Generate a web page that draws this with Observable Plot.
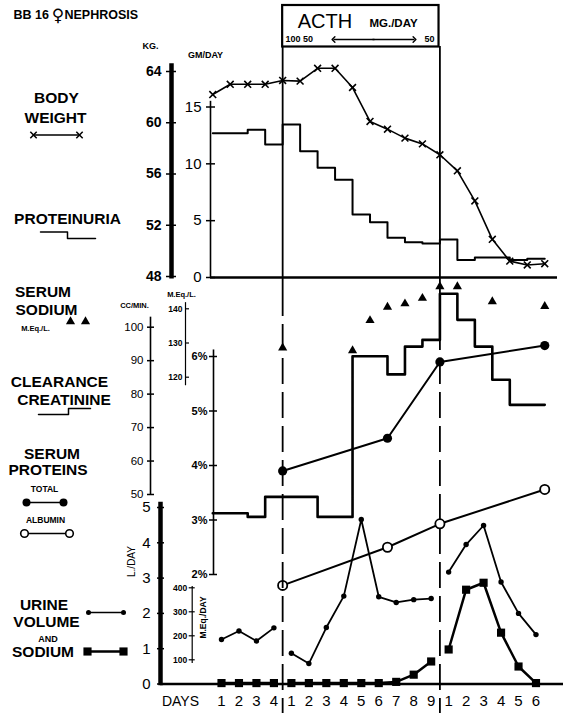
<!DOCTYPE html>
<html><head><meta charset="utf-8">
<script src="https://cdn.jsdelivr.net/npm/d3@7"></script>
<script src="https://cdn.jsdelivr.net/npm/@observablehq/plot@0.6"></script>
<style>
body{margin:0;background:#fff}
#chart{position:relative;width:567px;height:713px;overflow:hidden;background:#fff}
#chart svg{position:absolute;left:0;top:0;background:transparent}
</style></head><body><div id="chart"></div>
<script>
// ---------- DATA ----------
const dayLabels = ["1","2","3","4","1","2","3","4","5","6","7","8","9","1","2","3","4","5","6"];
const period    = [0,0,0,0,1,1,1,1,1,1,1,1,1,2,2,2,2,2,2];
// body weight (kg), plotted at day boundaries
const weightDay = [-0.5,0.5,1.5,2.5,3.5,4.5,5.5,6.5,7.5,8.5,9.5,10.5,11.5,12.5,13.5,14.5,15.5,16.5,17.5,18.5];
const weightKg  = [62.2,63.0,63.0,63.0,63.3,63.25,64.25,64.25,62.75,60.1,59.5,58.8,58.35,57.5,56.25,53.9,50.9,49.2,48.9,49.0];
// proteinuria (gm/day), one step per day
const proteinuria = [12.7,12.7,13.0,11.7,13.45,11.1,9.65,8.6,5.55,4.85,3.5,3.1,3.0,3.35,1.55,1.75,1.75,1.55,1.65];
// serum sodium (mEq/L)
const serumNaDay = [3.5,7.5,8.5,9.5,10.5,11.5,12.5,13.5,15.5,18.5];
const serumNa    = [128.6,127.8,136.6,140.5,141.5,143.1,146.5,146.5,142.1,140.7];
// creatinine clearance (cc/min), one step per day
const clearance = [44.4,44.4,43.3,49.3,49.3,49.3,43.3,43.3,91.3,91.3,85.9,94.2,96.2,110.0,102.2,94.2,84.3,76.8,76.8];
// serum proteins (%)
const proteinDay   = [3.5,9.5,12.5,18.5];
const totalProtein = [3.9,4.5,5.9,6.2];
const albumin      = [1.8,2.5,2.93,3.56];
// urine volume (L/day) and urine sodium (mEq/day)
const urineVolume = [1.26,1.5,1.22,1.59,0.87,0.58,1.6,2.49,4.66,2.47,2.31,2.39,2.42,3.17,3.95,4.49,2.89,2.0,1.4];
const urineSodium = [3,3,3,3,3,3,3,3,3,3,8,38,93,143,392,421,213,72,3];
// tick labels
const kgTicks = [48,52,56,60,64];
const gmTicks = [0,5,10,15];
const meqLTicks = [120,130,140];
const ccTicks = [50,60,70,80,90,100];
const pctTicks = [2,3,4,5,6];
const lTicks = [0,1,2,3,4,5];
const meqDayTicks = [100,200,300,400];
const dividers = [3.5,12.5];

// ---------- LAYOUT ----------
const W = 567, H = 713;
const X = {domain:[0,18], range:[221,535.5]};
const xs = d3.scaleLinear(X.domain, X.range);
const ix = px => xs.invert(px);
const FONT = "'Liberation Sans', Arial, sans-serif";
const root = document.getElementById("chart");

function layer(x, y, marks){
  const svg = Plot.plot({
    width:W, height:H, margin:0,
    x:{...x, axis:null}, y:{...y, axis:null},
    style:{background:"transparent", fontFamily:FONT, overflow:"visible", color:"#000"},
    marks
  });
  root.append(svg);
}
function vAxis({px, ticks, lo, hi, sw=1.5, tl=4, tr=4, dx=6, fontSize=11, fontWeight="bold", fmt=d=>String(d), tickSw=1.5}){
  return [
    Plot.ruleX([ix(px)], {y1:lo, y2:hi, strokeWidth:sw, stroke:"#000"}),
    Plot.ruleY(ticks, {y:d=>d, x1:ix(px-tl), x2:ix(px+tr), strokeWidth:tickSw, stroke:"#000"}),
    Plot.text(ticks, {y:d=>d, x:ix(px-dx), text:fmt, textAnchor:"end", fontSize, fontWeight, fill:"#000"})
  ];
}
const stepData = vals => vals.map((v,i)=>({d:i-0.5, v})).concat([{d:vals.length-0.5, v:vals[vals.length-1]}]);
const daily = vals => vals.map((v,i)=>({d:i, v, p:period[i]}));

// body weight
layer(X, {domain:[48,64], range:[276,71]}, [
  ...vAxis({px:171, ticks:kgTicks, lo:47.8, hi:64.6, sw:4.5, tl:5, tr:5, dx:10, fontSize:14}),
  Plot.line(weightDay.map((d,i)=>({d, v:weightKg[i]})), {x:"d", y:"v", stroke:"#000", strokeWidth:1.6}),
  Plot.dot(weightDay.map((d,i)=>({d, v:weightKg[i]})), {x:"d", y:"v", symbol:"times", r:3.2, stroke:"#000", strokeWidth:1.6})
]);
// proteinuria
layer(X, {domain:[0,15], range:[277,106.5]}, [
  ...vAxis({px:210, ticks:gmTicks, lo:0, hi:15.5, sw:1.6, tl:4, tr:5, dx:9, fontSize:15, fontWeight:"normal"}),
  Plot.ruleY([0], {x1:ix(210), x2:ix(557), strokeWidth:2.5, stroke:"#000"}),
  Plot.line(stepData(proteinuria), {x:"d", y:"v", curve:"step-after", stroke:"#000", strokeWidth:2})
]);
// serum sodium
layer(X, {domain:[120,140], range:[376.7,308.3]}, [
  ...vAxis({px:185, ticks:meqLTicks, lo:117.5, hi:141.8, sw:1.2, tl:0, tr:4, dx:3, fontSize:8.5, tickSw:1.2}),
  Plot.dot(serumNaDay.map((d,i)=>({d, v:serumNa[i]})), {x:"d", y:"v", symbol:"triangle", r:3.4, fill:"#000"})
]);
// clearance
layer(X, {domain:[50,100], range:[494,326.7]}, [
  ...vAxis({px:150, ticks:ccTicks, lo:50, hi:103, sw:1.6, tl:3, tr:4, dx:7, fontSize:11.5, fontWeight:"normal"}),
  Plot.line(stepData(clearance), {x:"d", y:"v", curve:"step-after", stroke:"#000", strokeWidth:2.6})
]);
// serum proteins
layer(X, {domain:[2,6], range:[574,356]}, [
  ...vAxis({px:213, ticks:pctTicks, lo:2, hi:6.12, sw:1.6, tl:4, tr:4, dx:6, fontSize:11, fmt:d=>d+"%"}),
  Plot.line(proteinDay.map((d,i)=>({d, v:totalProtein[i]})), {x:"d", y:"v", stroke:"#000", strokeWidth:2}),
  Plot.dot(proteinDay.map((d,i)=>({d, v:totalProtein[i]})), {x:"d", y:"v", r:4.6, fill:"#000"}),
  Plot.line(proteinDay.map((d,i)=>({d, v:albumin[i]})), {x:"d", y:"v", stroke:"#000", strokeWidth:2}),
  Plot.dot(proteinDay.map((d,i)=>({d, v:albumin[i]})), {x:"d", y:"v", r:4.6, fill:"#fff", stroke:"#000", strokeWidth:1.8})
]);
// urine volume
layer(X, {domain:[0,5], range:[683.5,507]}, [
  ...vAxis({px:160, ticks:lTicks, lo:-0.05, hi:5.15, sw:4.5, tl:3, tr:4, dx:10, fontSize:15, fontWeight:"normal"}),
  Plot.ruleY([0], {x1:ix(160), x2:ix(563), strokeWidth:2.5, stroke:"#000"}),
  Plot.line(daily(urineVolume), {x:"d", y:"v", z:"p", stroke:"#000", strokeWidth:1.8}),
  Plot.dot(daily(urineVolume), {x:"d", y:"v", r:2.7, fill:"#000"})
]);
// urine sodium
layer(X, {domain:[0,400], range:[683.3,587.3]}, [
  ...vAxis({px:191.7, ticks:meqDayTicks, lo:85, hi:405, sw:1.2, tl:3, tr:3, dx:5, fontSize:8.5, tickSw:1.2}),
  Plot.line(daily(urineSodium), {x:"d", y:"v", z:"p", stroke:"#000", strokeWidth:2.5}),
  Plot.dot(daily(urineSodium), {x:"d", y:"v", symbol:"square", r:4.6, fill:"#000"})
]);
// frame: dividers, ACTH box, day labels
const PIX = {domain:[0,H], range:[0,H]};
layer(X, PIX, [
  Plot.ruleX(dividers, {y1:46, y2:290, strokeWidth:1.8, stroke:"#000"}),
  Plot.ruleX(dividers, {y1:290, y2:713, strokeWidth:1.8, stroke:"#000", strokeDasharray:"26,8"}),
  Plot.rect([0], {x1:3.5, x2:12.45, y1:5, y2:46.5, fill:"none", stroke:"#000", strokeWidth:2.2}),
  Plot.text(dayLabels, {x:(d,i)=>i, y:701, text:d=>d, fontSize:15, fill:"#000"}),
  Plot.text(["DAYS"], {x:ix(180), y:701, fontSize:14, fill:"#000"})
]);
// page annotations: title, labels, legend glyphs
const PX = {domain:[0,W], range:[0,W]};
const T = (t, x, y, fontSize=15.5, extra={}) => Plot.text([t], {x:x, y:y, text:d=>d, fontSize, fontWeight:"bold", fill:"#000", ...extra});
layer(PX, PIX, [
  T("BB 16", 13, 14, 12.5, {textAnchor:"start"}),
  T("\u2640", 57.5, 15, 17, {fontFamily:"'DejaVu Sans', sans-serif", fontWeight:"normal"}),
  T("NEPHROSIS", 64, 14, 12.5, {textAnchor:"start"}),
  T("KG.", 150, 46, 9), T("GM/DAY", 205, 55, 9),
  T("BODY", 56, 97.5), T("WEIGHT", 55, 117.5),
  Plot.line([[33,134.5],[79,134.5]], {stroke:"#000", strokeWidth:1.3}),
  Plot.dot([[33,134.5],[79,134.5]], {symbol:"times", r:3, stroke:"#000", strokeWidth:1.5}),
  T("PROTEINURIA", 67, 219),
  Plot.line([[40,231.5],[67,231.5],[67,238],[95,238]], {stroke:"#000", strokeWidth:1.5}),
  T("SERUM", 42.5, 291.5), T("SODIUM", 46, 310), T("M.Eq./L.", 35, 328, 7.5),
  Plot.dot([[70,321],[85,321]], {symbol:"triangle", r:3.4, fill:"#000"}),
  T("M.Eq./L.", 181, 294, 7.5), T("CC/MIN.", 134, 305, 7.5),
  T("CLEARANCE", 59, 381.5), T("CREATININE", 63.5, 400),
  Plot.line([[38,414],[68,414],[68,408],[90,408]], {stroke:"#000", strokeWidth:1.5}),
  T("SERUM", 51.5, 453.5), T("PROTEINS", 47.5, 470), T("TOTAL", 44, 488.5, 8.5),
  Plot.line([[26,502],[63,502]], {stroke:"#000", strokeWidth:1.5}),
  Plot.dot([[26,502],[63,502]], {r:4, fill:"#000"}),
  T("ALBUMIN", 45, 520, 8.5),
  Plot.line([[24,533],[69,533]], {stroke:"#000", strokeWidth:1.5}),
  Plot.dot([[24,533],[69,533]], {r:3.8, fill:"#fff", stroke:"#000", strokeWidth:1.6}),
  T("URINE", 43.5, 604.5), T("VOLUME", 46, 621.5), T("AND", 47.5, 638.5, 9), T("SODIUM", 42.5, 651.5),
  Plot.line([[88,612],[123,612]], {stroke:"#000", strokeWidth:1.3}),
  Plot.dot([[88,612],[123,612]], {r:2.5, fill:"#000"}),
  Plot.line([[87,651],[123,651]], {stroke:"#000", strokeWidth:2.5}),
  Plot.dot([[87,651],[123,651]], {symbol:"square", r:4.6, fill:"#000"}),
  T("L./DAY", 131, 561, 10, {rotate:-90, fontWeight:"normal"}),
  T("M.Eq./DAY", 203, 617, 8.5, {rotate:-90}),
  T("ACTH", 324.5, 21.5, 20, {fontWeight:"normal"}),
  T("MG./DAY", 393, 22.5, 11.5),
  T("100 50", 285, 38.5, 9, {textAnchor:"start"}),
  T("50", 429, 38.5, 9),
  Plot.link([0], {x1:374, x2:333, y1:39, y2:39, stroke:"#000", strokeWidth:1.4, markerEnd:"arrow"}),
  Plot.link([0], {x1:372, x2:414, y1:39, y2:39, stroke:"#000", strokeWidth:1.4, markerEnd:"arrow"})
]);
</script></body></html>
